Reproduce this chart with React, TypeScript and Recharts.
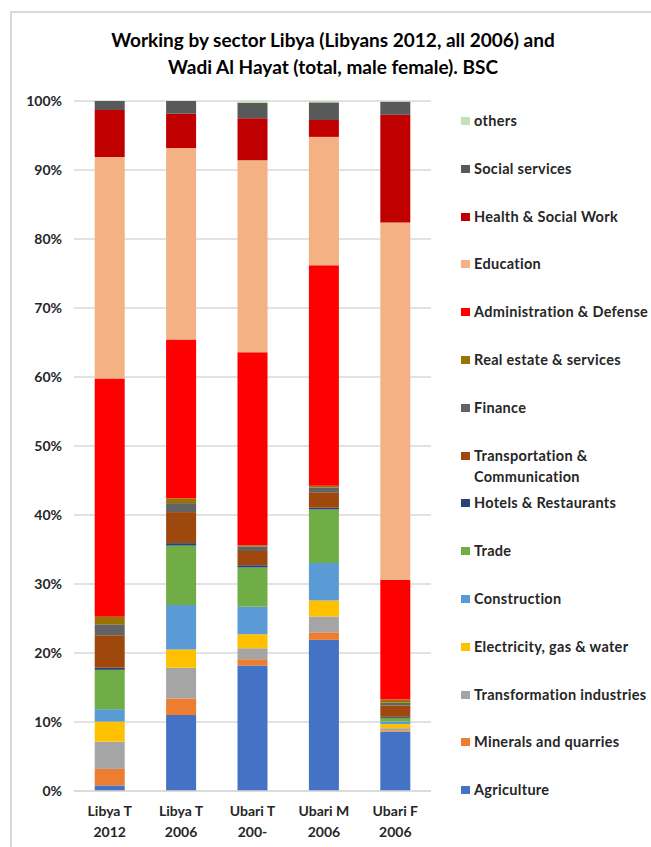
import { BarChart, Bar, XAxis, YAxis, CartesianGrid } from "recharts";

const FONT = "Lato, 'Open Sans', sans-serif";

const categories = ["Libya T\n2012", "Libya T\n2006", "Ubari T\n200-", "Ubari M\n2006", "Ubari F\n2006"];

// percent of workers per sector, bottom of stack first
const agriculture = [0.8, 11.0, 18.2, 21.9, 8.6];
const minerals = [2.4, 2.4, 0.9, 1.1, 0.2];
const transformation = [3.95, 4.45, 1.6, 2.3, 0.3];
const electricity = [2.9, 2.65, 2.0, 2.3, 0.6];
const construction = [1.8, 6.45, 4.0, 5.45, 0.35];
const trade = [5.7, 8.6, 5.7, 7.75, 0.55];
const hotels = [0.3, 0.35, 0.3, 0.25, 0.15];
const transport = [4.7, 4.5, 2.1, 2.25, 1.65];
const finance = [1.6, 1.3, 0.65, 0.7, 0.4];
const realEstate = [1.1, 0.7, 0.15, 0.25, 0.45];
const administration = [34.5, 23.0, 28.0, 31.95, 17.35];
const education = [32.1, 27.75, 27.8, 18.6, 51.8];
const health = [6.8, 4.95, 6.1, 2.45, 15.6];
const socialServices = [1.3, 1.85, 2.25, 2.55, 1.9];
const others = [0, 0, 0.25, 0.2, 0.1];

const yTicks = [0, 0.1, 0.2, 0.3, 0.4, 0.5, 0.6, 0.7, 0.8, 0.9, 1];

const series = [
  { key: "agriculture", name: "Agriculture", color: "#4472C4", values: agriculture },
  { key: "minerals", name: "Minerals and quarries", color: "#ED7D31", values: minerals },
  { key: "transformation", name: "Transformation industries", color: "#A5A5A5", values: transformation },
  { key: "electricity", name: "Electricity, gas & water", color: "#FFC000", values: electricity },
  { key: "construction", name: "Construction", color: "#5B9BD5", values: construction },
  { key: "trade", name: "Trade", color: "#70AD47", values: trade },
  { key: "hotels", name: "Hotels & Restaurants", color: "#264478", values: hotels },
  { key: "transport", name: "Transportation &\nCommunication", color: "#9E480E", values: transport },
  { key: "finance", name: "Finance", color: "#636363", values: finance },
  { key: "realEstate", name: "Real estate & services", color: "#997300", values: realEstate },
  { key: "administration", name: "Administration & Defense", color: "#FF0000", values: administration },
  { key: "education", name: "Education", color: "#F4B183", values: education },
  { key: "health", name: "Health & Social Work", color: "#C00000", values: health },
  { key: "socialServices", name: "Social services", color: "#595959", values: socialServices },
  { key: "others", name: "others", color: "#C5E0B4", values: others },
];

const data = categories.map((name, i) => {
  const row: Record<string, string | number> = { name };
  series.forEach((s) => { row[s.key] = s.values[i]; });
  return row;
});

function CategoryTick({ x, y, payload }: any) {
  const [a, b] = String(payload.value).split("\n");
  return (
    <g transform={`translate(${x},${y})`}>
      <text textAnchor="middle" fontFamily={FONT} fontWeight={700} fontSize={14} fill="#262626">
        <tspan x={0} dy={17}>{a}</tspan>
        <tspan x={0} dy={21}>{b}</tspan>
      </text>
    </g>
  );
}

export default function App() {
  const legend = [...series].reverse();
  return (
    <div style={{ position: "absolute", left: 0, top: 0, width: 651, height: 847, background: "#fff", overflow: "hidden" }}>
      <div style={{ position: "absolute", left: 10, top: 11, width: 660, height: 860, border: "2px solid #d9d9d9", boxSizing: "border-box" }} />
      <div style={{ position: "absolute", left: 0, top: 26, width: 666, textAlign: "center", fontFamily: FONT, fontWeight: 700, fontSize: 19, lineHeight: "27px", color: "#000" }}>
        Working by sector Libya (Libyans 2012, all 2006) and<br />Wadi Al Hayat (total, male female). BSC
      </div>
      <BarChart width={651} height={847} data={data} stackOffset="expand" barCategoryGap="29%" margin={{ top: 101, right: 220, bottom: 6, left: 14 }} style={{ position: "absolute", left: 0, top: 0 }}>
        <CartesianGrid vertical={false} stroke="#d9d9d9" strokeWidth={1.5} />
        <XAxis dataKey="name" axisLine={{ stroke: "#d9d9d9", strokeWidth: 1.5 }} tickLine={false} tick={<CategoryTick />} height={50} interval={0} />
        <YAxis ticks={yTicks} domain={[0, 1]} axisLine={false} tickLine={false} width={60} tickMargin={6} tickFormatter={(v) => `${Math.round(v * 100)}%`} tick={{ fontFamily: FONT, fontWeight: 700, fontSize: 14, fill: "#262626" }} />
        {series.map((s) => (
          <Bar key={s.key} dataKey={s.key} name={s.name} stackId="a" fill={s.color} isAnimationActive={false} />
        ))}
      </BarChart>
      {legend.map((s, i) => {
        const [l1, l2] = s.name.split("\n");
        return (
          <div key={s.key} style={{ position: "absolute", left: 461, top: 121 + i * 47.8 - 10, fontFamily: FONT, fontWeight: 700, fontSize: 14.5, letterSpacing: 0.3, lineHeight: "20px", color: "#262626", whiteSpace: "nowrap" }}>
            <span style={{ position: "absolute", left: 0, top: 6, width: 9, height: 8, background: s.color }} />
            <div style={{ paddingLeft: 13 }}>{l1}</div>
            {l2 && <div style={{ paddingLeft: 13, marginTop: 1 }}>{l2}</div>}
          </div>
        );
      })}
    </div>
  );
}
